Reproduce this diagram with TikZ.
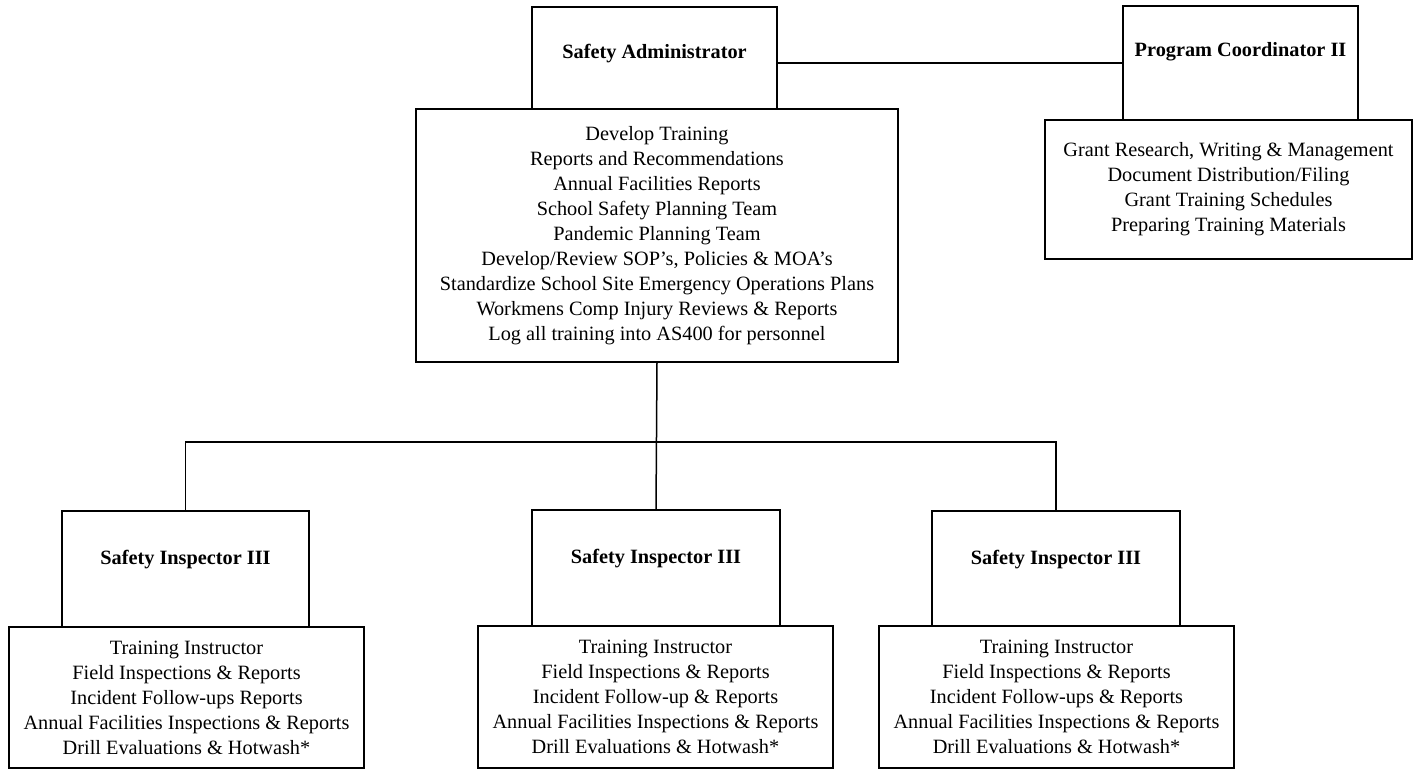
\documentclass[tikz,border=0pt]{standalone}
\usepackage{fontspec}
\setmainfont{Liberation Serif}
\usetikzlibrary{calc}
\begin{document}
\begin{tikzpicture}[x=1pt,y=-1pt,
  every node/.style={font=\fontsize{20.3}{25}\selectfont, text=black},
  box/.style={draw=black, line width=1.5pt, inner sep=0pt, outer sep=0pt,
              anchor=north west, align=center},
  titletext/.style={font=\fontsize{20.3}{25}\selectfont\bfseries, anchor=base, inner sep=0pt},
  conn/.style={draw=black, line width=1.5pt}
]
\useasboundingbox[fill=white] (0,0) rectangle (1413,770);

% Safety Administrator
\node[box, minimum width=245pt, minimum height=102pt] (sa) at (532,7) {};
\node[titletext] (sat) at (654.5,59) {Safety Administrator};
\node[box, minimum width=482pt, minimum height=253pt] (sad) at (416,109)
  {Develop Training\\
   Reports and Recommendations\\
   Annual Facilities Reports\\
   School Safety Planning Team\\
   Pandemic Planning Team\\
   Develop/Review SOP’s, Policies \& MOA’s\\
   Standardize School Site Emergency Operations Plans\\
   Workmens Comp Injury Reviews \& Reports\\
   Log all training into AS400 for personnel};

% Program Coordinator II
\node[box, minimum width=235pt, minimum height=114pt] (pc) at (1123,6) {};
\node[titletext] (pct) at (1240.5,57) {Program Coordinator II};
\node[box, minimum width=367pt, minimum height=139pt] (pcd) at (1045,120)
  {Grant Research, Writing \& Management\\
   Document Distribution/Filing\\
   Grant Training Schedules\\
   Preparing Training Materials};

% Safety Inspectors
\node[box, minimum width=247pt, minimum height=116pt] (i1) at (62,511) {};
\node[titletext] (i1t) at (185.5,564) {Safety Inspector III};
\node[box, minimum width=355pt, minimum height=141pt] (i1d) at (9,627)
  {Training Instructor\\
   Field Inspections \& Reports\\
   Incident Follow-ups Reports\\
   Annual Facilities Inspections \& Reports\\
   Drill Evaluations \& Hotwash*};

\node[box, minimum width=248pt, minimum height=116pt] (i2) at (532,510) {};
\node[titletext] (i2t) at (656,563) {Safety Inspector III};
\node[box, minimum width=355pt, minimum height=142pt] (i2d) at (478,626)
  {Training Instructor\\
   Field Inspections \& Reports\\
   Incident Follow-up \& Reports\\
   Annual Facilities Inspections \& Reports\\
   Drill Evaluations \& Hotwash*};

\node[box, minimum width=248pt, minimum height=115pt] (i3) at (932,511) {};
\node[titletext] (i3t) at (1056,564) {Safety Inspector III};
\node[box, minimum width=355pt, minimum height=142pt] (i3d) at (879,626)
  {Training Instructor\\
   Field Inspections \& Reports\\
   Incident Follow-ups \& Reports\\
   Annual Facilities Inspections \& Reports\\
   Drill Evaluations \& Hotwash*};

% Connectors
\coordinate (bus) at (0,442);
\draw[conn] (pc.west) -- (pc.west -| sa.east);
\draw[conn] (sad.south) -- (i2.north);
\draw[conn] (i1.north) -- (i1.north |- bus) -- (i3.north |- bus) -- (i3.north);
\end{tikzpicture}
\end{document}
